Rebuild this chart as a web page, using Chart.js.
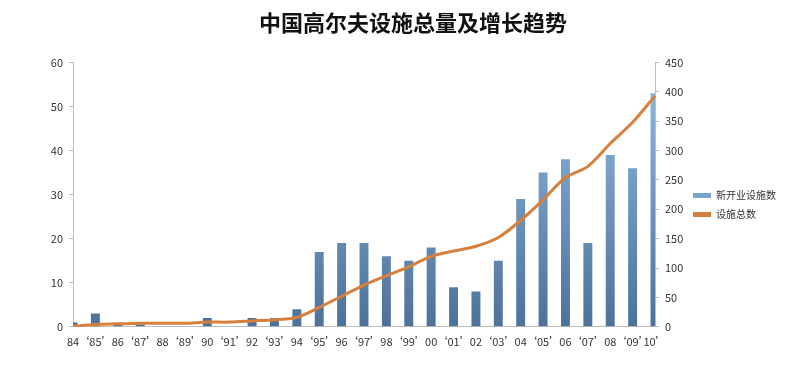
<!DOCTYPE html>
<html>
<head>
<meta charset="utf-8">
<script src="https://cdn.jsdelivr.net/npm/chart.js@4"></script>
<style>
  body { margin: 0; background: #fff; }
  #wrap { width: 804px; height: 366px; }
</style>
</head>
<body>
<div id="wrap"><canvas id="plot" width="804" height="366"></canvas></div>
<script>
// years 1984 - 2010
var yearLabels = ["84", "‘85’", "86", "‘87’", "88", "‘89’", "90", "‘91’", "92", "‘93’", "94", "‘95’", "96", "‘97’",
  "98", "‘99’", "00", "‘01’", "02", "‘03’", "04", "‘05’", "06", "‘07’", "08", "‘09’", "10’"];
// new facilities opened each year (left axis)
var newFacilities = [1, 3, 0.5, 0.5, 0, 0, 2, 0, 2, 2, 4, 17, 19, 19, 16, 15, 18, 9, 8, 15, 29, 35, 38, 19, 39, 36, 53];
// total facilities (right axis)
var totalFacilities = [1, 4, 5, 6, 6, 6, 8, 8, 10, 12, 16, 33, 52, 71, 87, 102, 120, 129, 137, 152, 181, 216, 254, 273, 312, 348, 393];

var barLabel = "新开业设施数";
var lineLabel = "设施总数";
var title = "中国高尔夫设施总量及增长趋势";

var barGradient;
function barColor(ctx) {
  var chart = ctx.chart;
  var area = chart.chartArea;
  if (!area) return "#6f98c2";
  if (!barGradient) {
    barGradient = chart.ctx.createLinearGradient(0, area.bottom, 0, area.top);
    barGradient.addColorStop(0, "#4d7299");
    barGradient.addColorStop(1, "#93bde6");
  }
  return barGradient;
}

var font = "'Microsoft YaHei', 'Noto Sans CJK SC', 'DejaVu Sans', sans-serif";
Chart.defaults.font.family = font;
Chart.defaults.color = "#333";

var config = {
  type: "bar",
  data: {
    labels: yearLabels,
    datasets: [
      {
        type: "line",
        label: lineLabel,
        data: totalFacilities,
        yAxisID: "y1",
        borderColor: "#d77f3c",
        backgroundColor: "#d77f3c",
        borderWidth: 3,
        pointRadius: 0,
        tension: 0.3,
        order: 0
      },
      {
        type: "bar",
        label: barLabel,
        data: newFacilities,
        yAxisID: "y",
        backgroundColor: barColor,
        categoryPercentage: 0.8,
        barPercentage: 0.5,
        order: 1
      }
    ]
  },
  options: {
    responsive: false,
    animation: false,
    layout: { padding: { left: 40, right: 18, bottom: 18 } },
    plugins: {
      title: {
        display: true,
        text: title,
        color: "#111",
        font: { size: 22, weight: "bold", family: font },
        padding: { top: 9, bottom: 27 }
      },
      legend: {
        position: "right",
        reverse: true,
        // empty legend title only pushes the items down a bit
        title: { display: true, text: " ", font: { size: 10 }, padding: 25 },
        labels: {
          boxWidth: 18,
          boxHeight: 5,
          padding: 9,
          font: { size: 10 },
          color: "#333",
          generateLabels: function (chart) {
            return chart.data.datasets.map(function (ds, i) {
              var c = ds.type === "line" ? "#d77f3c" : "#7aa3cc";
              return { text: ds.label, fillStyle: c, strokeStyle: c, lineWidth: 0, datasetIndex: i };
            });
          }
        }
      },
      tooltip: { enabled: false }
    },
    scales: {
      x: {
        offset: false,
        grid: { display: false },
        border: { display: true, color: "#bdbdbd" },
        ticks: { autoSkip: false, maxRotation: 0, font: { size: 11 }, color: "#333", padding: 0 }
      },
      y: {
        position: "left",
        min: 0,
        max: 60,
        afterFit: function (scale) { scale.width = 33; },
        ticks: { stepSize: 10, font: { size: 11 }, color: "#333", padding: 6 },
        grid: { drawOnChartArea: false, tickLength: 4, color: "#bdbdbd" },
        border: { color: "#bdbdbd" }
      },
      y1: {
        position: "right",
        min: 0,
        max: 450,
        afterFit: function (scale) { scale.width = 29; },
        ticks: { stepSize: 50, font: { size: 11 }, color: "#333", padding: 6 },
        grid: { drawOnChartArea: false, tickLength: 4, color: "#bdbdbd" },
        border: { color: "#bdbdbd" }
      }
    }
  }
};

var chart = new Chart(document.getElementById("plot").getContext("2d"), config);
</script>
</body>
</html>
